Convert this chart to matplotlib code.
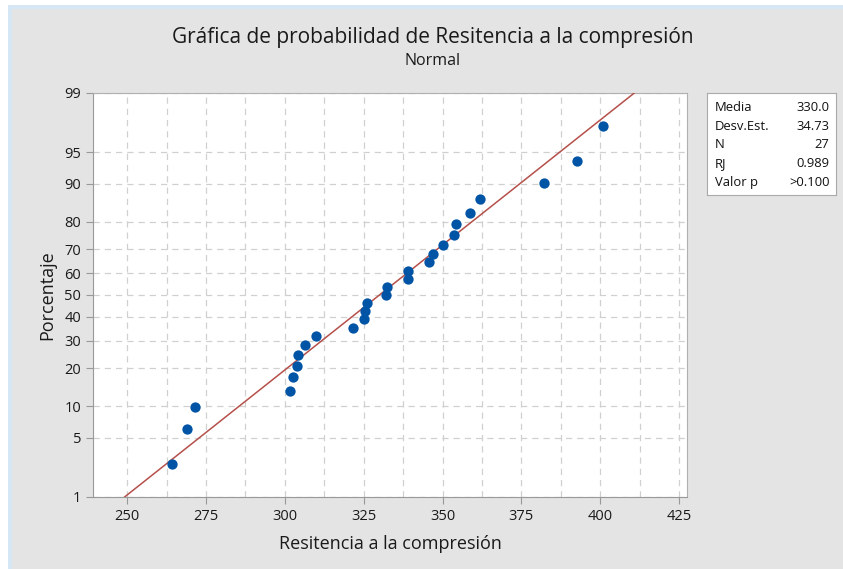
import numpy as np
import matplotlib
matplotlib.use("Agg")
import matplotlib.pyplot as plt
from matplotlib.patches import Rectangle
from statistics import NormalDist

plt.rcParams['font.family'] = ['Open Sans', 'DejaVu Sans']

# valores
resistencia = [264.3, 269.1, 271.4, 301.7, 302.5, 303.8, 304.1, 306.3, 310.0,
               321.6, 325.0, 325.3, 326.1, 332.2, 332.5, 338.9, 339.2, 345.7,
               347.0, 350.3, 353.7, 354.4, 358.8, 361.9, 382.3, 392.7, 401.0]
porcentaje = [2.55, 6.2, 9.85, 13.5, 17.15, 20.8, 24.45, 28.1, 31.75,
              35.4, 39.05, 42.7, 46.35, 50.0, 53.65, 57.3, 60.95, 64.6,
              68.25, 71.9, 75.55, 79.2, 82.85, 86.5, 90.15, 93.8, 97.45]
media = 330.0
desv = 34.73
stat_labels = ['Media', 'Desv.Est.', 'N', 'RJ', 'Valor p']
stat_values = ['330.0', '34.73', '27', '0.989', '>0.100']
y_ticks = [1, 5, 10, 20, 30, 40, 50, 60, 70, 80, 90, 95, 99]
x_ticks = [250, 275, 300, 325, 350, 375, 400, 425]

nd = NormalDist()
_ppf = np.vectorize(lambda v: nd.inv_cdf(v / 100.0), otypes=[float])
_cdf = np.vectorize(lambda v: nd.cdf(v) * 100.0, otypes=[float])


def fwd(p):
    p = np.clip(np.asarray(p, dtype=float), 1e-6, 100 - 1e-6)
    return _ppf(p)


def inv(z):
    return _cdf(np.asarray(z, dtype=float))


bg = '#e4e4e4'
txt = '#1a1a1a'
fig = plt.figure(figsize=(8.43, 5.69), dpi=100, facecolor='white')
fig.patches.append(Rectangle((8 / 843, 0), 1, 1 - 5 / 569, transform=fig.transFigure,
                             facecolor='#d5e6f5', edgecolor='none', zorder=-2))
fig.patches.append(Rectangle((12 / 843, 0), 1, 1 - 9 / 569, transform=fig.transFigure,
                             facecolor=bg, edgecolor='none', zorder=-1))

ax = fig.add_axes([93 / 843, 72 / 569, 594 / 843, 404 / 569])
ax.set_yscale('function', functions=(fwd, inv))
ax.set_ylim(1, 99)
ax.set_xlim(239.2, 427.5)

# linea ajustada
pl = np.array([1, 99])
xl = media + desv * fwd(pl)
ax.plot(xl, pl, color='#b5504a', lw=1.1, zorder=3)
ax.scatter(resistencia, porcentaje, s=55, color='#0054a6', zorder=4, linewidths=0)

ax.set_yticks(y_ticks)
ax.set_yticklabels([str(t) for t in y_ticks])
ax.yaxis.set_minor_locator(matplotlib.ticker.NullLocator())
ax.set_xticks(x_ticks)
ax.set_xticks(np.arange(262.5, 427, 25), minor=True)
ax.grid(True, which='both', axis='x', color='#d0d0d0', ls=(0, (5, 4)), lw=0.9)
ax.grid(True, which='major', axis='y', color='#d0d0d0', ls=(0, (5, 4)), lw=0.9)
ax.tick_params(which='major', length=5, color='#999999', labelsize=10.5,
               labelcolor=txt)
ax.tick_params(which='minor', length=0)
for s in ax.spines.values():
    s.set_color('#b0b0b0')
ax.spines['left'].set_color('#999999')
ax.spines['bottom'].set_color('#999999')

ax.set_xlabel('Resitencia a la compresión', fontsize=13, color=txt, labelpad=8,
              fontweight='medium')
ax.set_ylabel('Porcentaje', fontsize=13, color=txt, labelpad=6, fontweight='medium')

fig.text(433 / 843, 1 - 38 / 569, 'Gráfica de probabilidad de Resitencia a la compresión',
         ha='center', va='center', fontsize=15, color=txt, fontweight='medium')
fig.text(433 / 843, 1 - 61 / 569, 'Normal', ha='center', va='center',
         fontsize=11.5, color=txt, fontweight='medium')

# cuadro de estadisticos
box = fig.add_axes([707 / 843, 1 - 195 / 569, 129 / 843, 102 / 569])
box.set_xticks([])
box.set_yticks([])
for s in box.spines.values():
    s.set_color('#aaaaaa')
for i, (lab, val) in enumerate(zip(stat_labels, stat_values)):
    yy = 1 - (i + 0.75) / 5.4
    box.text(0.06, yy, lab, fontsize=9.4, va='center', ha='left', color='#111111')
    box.text(0.95, yy, val, fontsize=9.4, va='center', ha='right', color='#111111')

fig.savefig('out.png', dpi=100)
